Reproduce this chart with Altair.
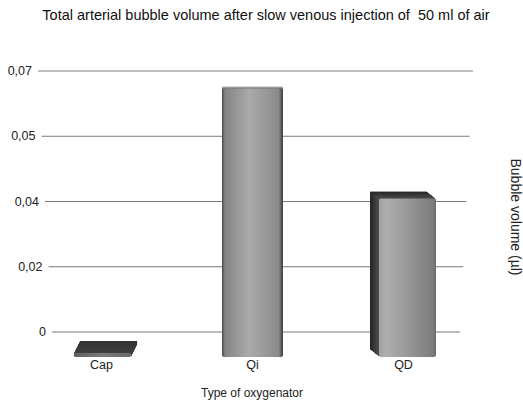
import altair as alt
import pandas as pd

# ---- data -------------------------------------------------------------
oxygenators = ["Cap", "Qi", "QD"]
bubble_volume = [0.001, 0.066, 0.039]          # µl
tick_values = [0, 0.0175, 0.035, 0.0525, 0.07]
tick_labels = ["0", "0,02", "0,04", "0,05", "0,07"]

title_text = "Total arterial bubble volume after slow venous injection of \u00a050 ml of air"
x_title = "Type of oxygenator"
y_title = "Bubble volume (µl)"

# ---- layout / style ---------------------------------------------------
W, H = 435, 261
FONT = "Liberation Sans"
y_max = tick_values[-1]
FRONT_BASE = H + 25      # bar faces sit nearer the viewer than the back wall

# back wall (gridlines) scale
wall_y = alt.Scale(domain=[0, y_max], range=[H, 0])
band_x = alt.Scale(domain=oxygenators, range=[-12, 441], paddingInner=0, paddingOuter=0)


def front_y(shift=0.0):
    """Front-plane scale, optionally moved up/down for the extruded depth."""
    return alt.Scale(domain=[0, y_max], range=[FRONT_BASE + shift, 1 + shift])


def grad(stops, vertical=False):
    return alt.LinearGradient(
        gradient="linear",
        stops=[alt.GradientStop(offset=o, color=c) for o, c in stops],
        x1=0, y1=0, x2=0 if vertical else 1, y2=1 if vertical else 0,
    )


# per-bar 3D look: face width, horizontal nudge, extrusion vector, colours
bar_style = {
    "Cap": dict(width=58, shift=1, dx=6, dy=-12, far="#333333", near="#3e3e3e",
                face=grad([(0, "#5e5e5e"), (0.5, "#7a7a7a"), (1, "#6a6a6a")])),
    "Qi": dict(width=61, shift=0, dx=0, dy=-2, far="#b0b0b0", near="#7a7a7a",
               face=grad([(0, "#4a4a4a"), (0.05, "#858585"), (0.45, "#aaaaaa"),
                          (0.93, "#8a8a8a"), (1, "#3c3c3c")])),
    "QD": dict(width=57, shift=4, dx=-9, dy=-7, far="#262626", near="#4a4a4a",
               face=grad([(0, "#a0a0a0"), (0.12, "#afafaf"), (0.95, "#7c7c7c"),
                          (1, "#6a6a6a")])),
}

bars = pd.DataFrame({"oxygenator": oxygenators, "volume": bubble_volume})
ticks = pd.DataFrame({"value": tick_values, "label": tick_labels})

# gridlines converge slightly towards the bottom (perspective of the back wall)
wall = alt.Chart(ticks).transform_calculate(
    depth=f"1 - datum.value / {y_max}",
).transform_calculate(
    x_left="14 * datum.depth",
    x_right=f"{W} - 13 * datum.depth",
)

grid = wall.mark_rule(color="#7a7a7a", strokeWidth=1).encode(
    x=alt.X("x_left:Q", scale=None),
    x2="x_right:Q",
    y=alt.Y("value:Q", scale=wall_y, axis=None),
)

tick_text = wall.mark_text(
    align="right", baseline="middle", dx=-6, font=FONT, fontSize=12.5, color="#222222"
).encode(
    x=alt.X("x_left:Q", scale=None),
    y=alt.Y("value:Q", scale=wall_y, axis=None),
    text="label:N",
)


def mix(c1, c2, t):
    a = [int(c1[i:i + 2], 16) for i in (1, 3, 5)]
    b = [int(c2[i:i + 2], 16) for i in (1, 3, 5)]
    return "#" + "".join(f"{round(x + (y - x) * t):02x}" for x, y in zip(a, b))


bar_layers = []
for name in oxygenators:
    s = bar_style[name]
    base = alt.Chart(bars).transform_filter(alt.datum.oxygenator == name)
    x_enc = alt.X("oxygenator:N", scale=band_x, axis=None)
    n = max(abs(s["dx"]), abs(s["dy"]))
    # extruded depth: stacked copies stepping back towards the wall
    for k in range(n, 0, -1):
        t = (n - k) / max(n - 1, 1)
        bar_layers.append(
            base.mark_bar(
                size=s["width"],
                color=mix(s["far"], s["near"], t),
                xOffset=s["shift"] + s["dx"] * k / n,
                cornerRadius=1,
            ).encode(
                x=x_enc,
                y=alt.Y("volume:Q", scale=front_y(s["dy"] * k / n), axis=None),
            )
        )
    # front face
    bar_layers.append(
        base.mark_bar(size=s["width"], color=s["face"], xOffset=s["shift"],
                      cornerRadius=2).encode(
            x=x_enc,
            y=alt.Y("volume:Q", scale=front_y(), axis=None),
        )
    )

cat_text = alt.Chart(bars).mark_text(
    baseline="middle", font=FONT, fontSize=12.5, color="#222222"
).encode(
    x=alt.X("oxygenator:N", scale=band_x, axis=None),
    y=alt.value(294),
    text="oxygenator:N",
)

labels = pd.DataFrame({"title": [title_text], "xt": [x_title], "yt": [y_title]})
chart_title = alt.Chart(labels).mark_text(
    font=FONT, fontSize=14.5, color="#111111", baseline="middle"
).encode(x=alt.value(228), y=alt.value(-55), text="title:N")
x_axis_title = alt.Chart(labels).mark_text(
    font=FONT, fontSize=12, color="#222222", baseline="middle"
).encode(x=alt.value(214), y=alt.value(322), text="xt:N")
y_axis_title = alt.Chart(labels).mark_text(
    font=FONT, fontSize=14, color="#222222", baseline="middle", angle=90
).encode(x=alt.value(477), y=alt.value(146), text="yt:N")

chart = alt.layer(
    grid, tick_text, *bar_layers, cat_text, chart_title, x_axis_title, y_axis_title
).resolve_scale(
    x="independent", y="independent"
).properties(
    width=W,
    height=H,
    autosize=alt.AutoSizeParams(type="none"),
    padding={"left": 38, "top": 71, "right": 523 - 38 - W, "bottom": 403 - 71 - H},
    background="white",
).configure_view(stroke=None)

chart.save("out.html", embed_options={"renderer": "svg", "actions": False})
